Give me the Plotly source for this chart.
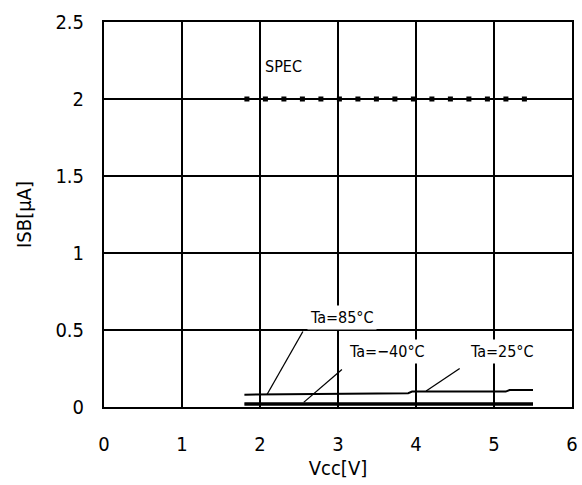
import plotly.graph_objects as go

# Data
vcc_spec = [1.8, 5.5]
isb_spec = [2.0, 2.0]

vcc_85 = [1.8, 3.0, 3.9, 3.95, 5.15, 5.2, 5.5]
isb_85 = [0.080, 0.084, 0.090, 0.100, 0.100, 0.110, 0.110]

vcc_25 = [1.8, 3.0, 4.0, 5.5]
isb_25 = [0.024, 0.024, 0.025, 0.025]

vcc_m40 = [1.8, 3.0, 4.0, 5.5]
isb_m40 = [0.014, 0.014, 0.015, 0.015]

x_ticks = [0, 1, 2, 3, 4, 5, 6]
y_ticks = [0, 0.5, 1, 1.5, 2, 2.5]
y_tick_text = ["0", "0.5", "1", "1.5", "2", "2.5"]

# Labels: (text, label x, label y, leader start x, leader start y, leader end x, leader end y)
labels = [
    ("Ta=85°C", 3.05, 0.58, 2.55, 0.49, 2.09, 0.081),
    ("Ta=−40°C", 3.63, 0.36, 3.05, 0.243, 2.56, 0.03),
    ("Ta=25°C", 5.1, 0.36, 4.56, 0.25, 4.13, 0.104),
]

FONT = "DejaVu Sans Condensed, Liberation Sans Narrow, sans-serif"

fig = go.Figure()

fig.add_trace(go.Scatter(x=vcc_spec, y=isb_spec, mode="lines",
                         line=dict(color="black", width=5, dash="5px,13.5px"),
                         showlegend=False, hoverinfo="skip"))
for xs, ys in [(vcc_85, isb_85), (vcc_25, isb_25), (vcc_m40, isb_m40)]:
    fig.add_trace(go.Scatter(x=xs, y=ys, mode="lines",
                             line=dict(color="black", width=2),
                             showlegend=False, hoverinfo="skip"))

for text, lx, ly, sx, sy, ex, ey in labels:
    fig.add_trace(go.Scatter(x=[sx, ex], y=[sy, ey], mode="lines",
                             line=dict(color="black", width=1.3),
                             showlegend=False, hoverinfo="skip"))
    fig.add_annotation(x=lx, y=ly, text=text, showarrow=False,
                       font=dict(family=FONT, size=16, color="black"),
                       bgcolor="white", borderpad=2)

fig.add_annotation(x=2.3, y=2.21, text="SPEC", showarrow=False,
                   font=dict(family=FONT, size=16, color="black"))

fig.update_layout(
    width=582, height=485,
    margin=dict(l=104, r=10, t=22, b=78),
    paper_bgcolor="white", plot_bgcolor="white",
    font=dict(family=FONT, size=18, color="black"),
)
fig.update_xaxes(range=[0, 6], tickvals=x_ticks, showgrid=True, automargin=False,
                 gridcolor="black", gridwidth=1.5, showline=True, linecolor="black",
                 linewidth=2, mirror=True, zeroline=False,
                 ticks="outside", ticklen=18, tickcolor="white",
                 tickfont=dict(family=FONT, size=20),
                 title=dict(text="Vcc[V]", font=dict(family=FONT, size=20), standoff=0))
fig.update_yaxes(range=[0, 2.5], tickvals=y_ticks, ticktext=y_tick_text, showgrid=True,
                 automargin=False,
                 gridcolor="black", gridwidth=1.5, showline=True, linecolor="black",
                 linewidth=2, mirror=True, zeroline=False,
                 ticks="outside", ticklen=14, tickcolor="white",
                 tickfont=dict(family=FONT, size=20),
                 title=dict(text="ISB[μA]", font=dict(family=FONT, size=20), standoff=18))

fig.write_html(
    "out.html",
    config={"displayModeBar": False, "responsive": False},
    post_script=("document.documentElement.style.overflow='hidden';"
                 "document.body.style.margin='0';document.body.style.overflow='hidden';"),
)
